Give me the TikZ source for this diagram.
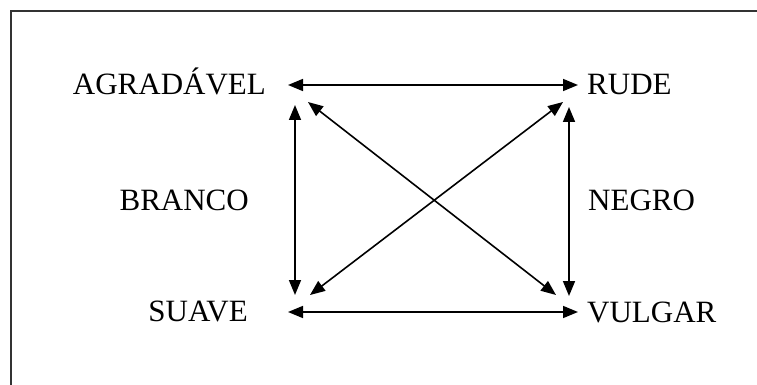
\documentclass[tikz,border=0pt]{standalone}
\usepackage{fontspec}
\setmainfont{Liberation Serif}
\usetikzlibrary{arrows.meta}
\begin{document}
\begin{tikzpicture}[x=1pt,y=-1pt,
  lbl/.style={inner sep=0pt,font=\fontsize{31}{37}\selectfont},
  conn/.style={line width=1.6pt,{Triangle[length=15pt,width=12pt]}-{Triangle[length=15pt,width=12pt]}}]
\useasboundingbox (0,0) rectangle (757,385);
\begin{scope}
\clip (0,0) rectangle (757,385);
\draw[line width=2pt,black!80] (11,420) -- (11,11) -- (800,11);
\end{scope}
% labels
\node[lbl,anchor=base east] (agr) at (266,95) {AGRADÁVEL};
\node[lbl,anchor=base west] (rude) at (587,95) {RUDE};
\node[lbl,anchor=base east] (branco) at (249,210) {BRANCO};
\node[lbl,anchor=base west] (negro) at (588,210) {NEGRO};
\node[lbl,anchor=base east] (suave) at (248,321) {SUAVE};
\node[lbl,anchor=base west] (vulgar) at (587,322) {VULGAR};
% arrow end points
\coordinate (h1l) at (288,85);
\coordinate (h1r) at (578,85);
\coordinate (h2l) at (288,312);
\coordinate (h2r) at (578,312);
\coordinate (v1t) at (295,105);
\coordinate (v1b) at (295,295);
\coordinate (v2t) at (569,107);
\coordinate (v2b) at (569,296);
\coordinate (d1a) at (308,102);
\coordinate (d1b) at (556,295);
\coordinate (d2a) at (310,295);
\coordinate (d2b) at (563,102);
\draw[conn] (h1l) -- (h1r);
\draw[conn] (h2l) -- (h2r);
\draw[conn] (v1t) -- (v1b);
\draw[conn] (v2t) -- (v2b);
\draw[conn] (d1a) -- (d1b);
\draw[conn] (d2a) -- (d2b);
\end{tikzpicture}
\end{document}
